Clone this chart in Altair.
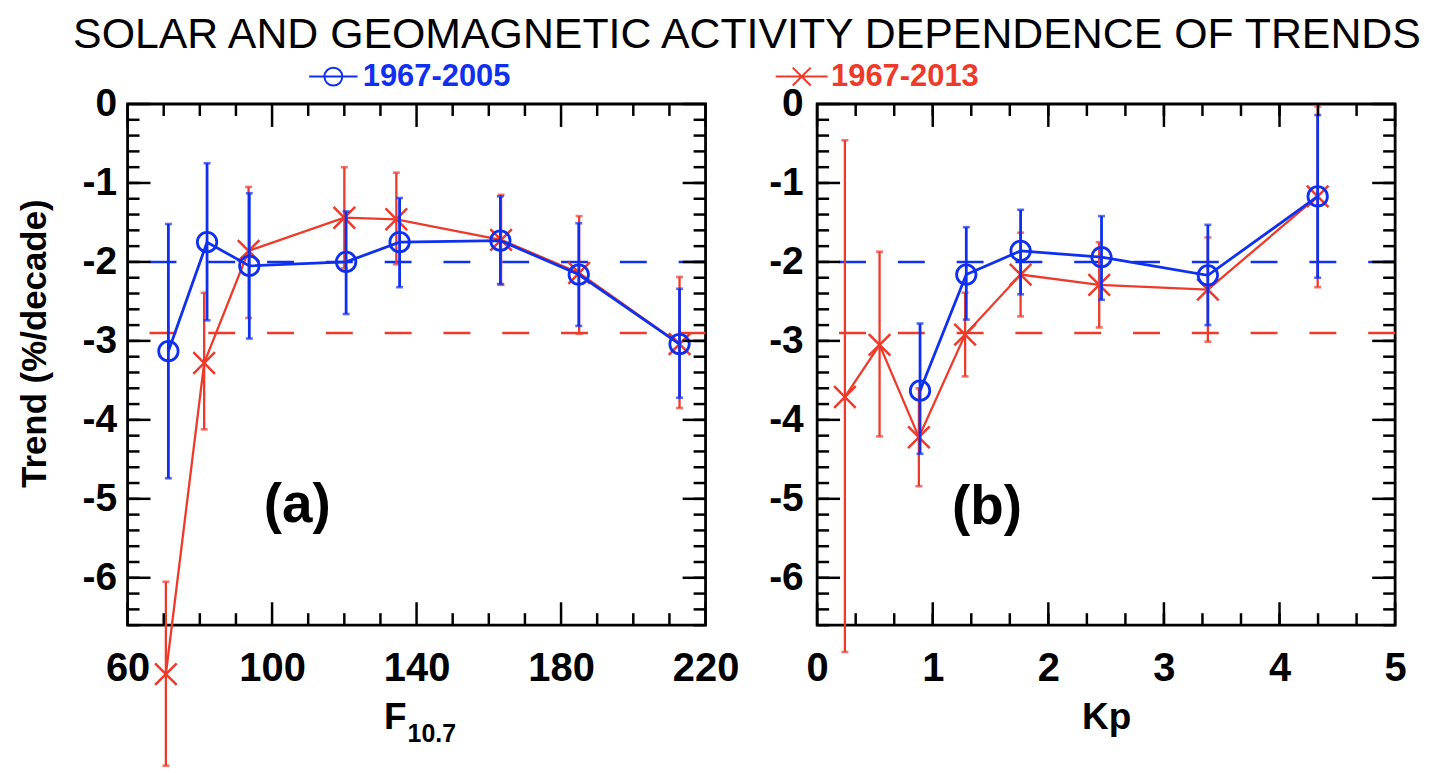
import altair as alt
import pandas as pd

# ---------------- data ----------------
series_names = ["1967-2005", "1967-2013"]
series_colors = ["#1030f0", "#ee3a2a"]
mean_trends = [-2.0, -2.9]

# panel (a): F10.7
f107_blue = [71.3, 82.0, 93.7, 120.5, 135.3, 163.2, 184.9, 212.8]
trend_blue_a = [-3.13, -1.75, -2.05, -2.00, -1.75, -1.73, -2.16, -3.04]
lo_blue_a = [-4.74, -2.74, -2.97, -2.66, -2.32, -2.28, -2.81, -3.72]
hi_blue_a = [-1.52, -0.75, -1.13, -1.36, -1.19, -1.17, -1.51, -2.34]

f107_red = [70.6, 81.2, 93.5, 120.0, 134.4, 163.4, 185.0, 212.8]
trend_red_a = [-7.22, -3.28, -1.86, -1.44, -1.46, -1.72, -2.14, -3.04]
lo_red_a = [-8.38, -4.12, -2.71, -2.08, -2.03, -2.29, -2.91, -3.85]
hi_red_a = [-6.05, -2.39, -1.05, -0.80, -0.87, -1.15, -1.42, -2.19]

# panel (b): Kp
kp_blue = [0.89, 1.29, 1.76, 2.46, 3.38, 4.33]
trend_blue_b = [-3.63, -2.16, -1.86, -1.94, -2.17, -1.17]
lo_blue_b = [-4.43, -2.73, -2.41, -2.48, -2.80, -2.20]
hi_blue_b = [-2.78, -1.56, -1.34, -1.42, -1.53, -0.14]

kp_red = [0.24, 0.54, 0.88, 1.28, 1.76, 2.44, 3.38, 4.33]
trend_red_b = [-3.71, -3.05, -4.22, -2.92, -2.16, -2.29, -2.35, -1.17]
lo_red_b = [-6.94, -4.21, -4.84, -3.45, -2.69, -2.83, -3.01, -2.32]
hi_red_b = [-0.46, -1.87, -3.60, -2.39, -1.63, -1.75, -1.69, -0.03]

# axes / ticks
y_domain = [-6.6, 0.0]
y_major = [0, -1, -2, -3, -4, -5, -6]
y_minor = [round(-0.2 * k, 2) for k in range(1, 34)]
f107_domain = [60, 220]
f107_major = [60, 100, 140, 180, 220]
f107_minor = [70, 80, 90, 110, 120, 130, 150, 160, 170, 190, 200, 210]
kp_domain = [0, 5]
kp_major = [0, 1, 2, 3, 4, 5]
kp_minor = [k / 3 for k in range(1, 15)]

panel_tags = ["(a)", "(b)"]
tag_x = [107, 1.47]
tag_y = [-5.08, -5.11]

title_text = "SOLAR AND GEOMAGNETIC ACTIVITY DEPENDENCE OF TRENDS"
ytitle = "Trend (%/decade)"
xtitle_a = "F"
xtitle_a_sub = "10.7"
xtitle_b = "Kp"

# ---------------- style ----------------
FONT = "Liberation Sans"
W, H = 580, 523
X_PATH = "M-1,-1L1,1M-1,1L1,-1"
LEG_PATHS = ["M-2.7,0L2.7,0M-1,0A1,1 0 1,0 1,0A1,1 0 1,0 -1,0",
             "M-2.9,0L2.9,0M-1,-1L1,1M-1,1L1,-1"]

cscale = alt.Scale(domain=series_names, range=series_colors)


def series_df(xs, ys, los, his, name):
    return pd.DataFrame({"x": xs, "trend": ys, "lo": los, "hi": his, "series": name})


def panel(blue, red, xdomain, xmajor, xminor, xaxis, yaxis, tag, tx, ty, leg_idx, leg_xy, extra=None):
    xs = alt.Scale(domain=xdomain, nice=False, zero=False)
    ys = alt.Scale(domain=y_domain, nice=False, zero=False)

    def XQ(f):
        return alt.X(f, type="quantitative", scale=xs, axis=xaxis)

    def YQ(f):
        return alt.Y(f, type="quantitative", scale=ys, axis=yaxis)

    col = alt.Color("series:N", scale=cscale, legend=None)
    layers = []

    means = pd.DataFrame({"series": series_names, "mean": mean_trends})
    layers.append(
        alt.Chart(means).mark_rule(strokeDash=[27, 32], strokeWidth=2.5).encode(y=YQ("mean"), color=col)
    )

    for df, sw, ew, is_blue in [(red, 2.3, 2.3, False), (blue, 2.8, 2.8, True)]:
        base = alt.Chart(df)
        layers.append(base.mark_rule(strokeWidth=ew).encode(
            x=XQ("x"), y=YQ("lo"), y2="hi:Q", color=col))
        for f in ["lo", "hi"]:
            layers.append(base.mark_tick(orient="horizontal", size=7, thickness=2.6).encode(
                x=XQ("x"), y=YQ(f), color=col))
        layers.append(base.mark_line(strokeWidth=sw).encode(x=XQ("x"), y=YQ("trend"), color=col))
        if is_blue:
            pts = base.mark_point(shape="circle", size=380, filled=False, strokeWidth=2.8, opacity=1)
        else:
            pts = base.mark_point(shape=X_PATH, size=470, filled=False, strokeWidth=2.5, opacity=1)
        layers.append(pts.encode(x=XQ("x"), y=YQ("trend"), color=col))

    # inward ticks on all four sides
    for vals, ln in [(xmajor, 23), (xminor, 12)]:
        d = alt.Chart(pd.DataFrame({"v": vals})).mark_rule(color="black", strokeWidth=2.5)
        layers.append(d.encode(x=XQ("v"), y=alt.value(H), y2=alt.value(H - ln)))
        layers.append(d.encode(x=XQ("v"), y=alt.value(0), y2=alt.value(ln)))
    for vals, ln in [(y_major, 23), (y_minor, 12)]:
        d = alt.Chart(pd.DataFrame({"v": vals})).mark_rule(color="black", strokeWidth=2.5)
        layers.append(d.encode(y=YQ("v"), x=alt.value(0), x2=alt.value(ln)))
        layers.append(d.encode(y=YQ("v"), x=alt.value(W - ln), x2=alt.value(W)))

    tagdf = pd.DataFrame({"t": [tag], "x": [tx], "y": [ty]})
    layers.append(alt.Chart(tagdf).mark_text(font=FONT, fontSize=55, fontWeight="bold",
                                             align="center", baseline="middle", color="black").encode(
        x=XQ("x"), y=YQ("y"), text="t:N"))

    if extra is not None:
        layers.extend(extra)

    # one-entry legend for this panel's series
    name = series_names[leg_idx]
    ldf = blue if leg_idx == 0 else red
    leg = alt.Legend(orient="none", legendX=leg_xy[0], legendY=leg_xy[1], title=None,
                     labelFont=FONT, labelFontSize=31, labelFontWeight="bold",
                     labelColor=series_colors[leg_idx],
                     symbolSize=324, symbolStrokeWidth=2.0, symbolOpacity=1, labelOffset=14,
                     padding=0)
    layers.append(alt.Chart(ldf).mark_point(opacity=0, filled=False).encode(
        x=XQ("x"), y=YQ("trend"),
        stroke=alt.Stroke("series:N", scale=alt.Scale(domain=[name], range=[series_colors[leg_idx]]), legend=leg),
        shape=alt.Shape("series:N", scale=alt.Scale(domain=[name], range=[LEG_PATHS[leg_idx]]), legend=leg)))

    return alt.layer(*layers).properties(width=W, height=H)


common_label = dict(labelFont=FONT, labelFontWeight="bold", labelColor="black", ticks=False,
                    domain=False, grid=False)

yaxis_a = alt.Axis(values=y_major, labelExpr="datum.value + ''", labelFontSize=39, labelPadding=11,
                   title=ytitle, titleFont=FONT, titleFontSize=35, titleFontWeight="bold", titleColor="black",
                   titleX=-93, titleY=240, titleAlign="center", titleBaseline="middle", titleAngle=270,
                   **common_label)
yaxis_b = alt.Axis(values=y_major, labelExpr="datum.value + ''", labelFontSize=39, labelPadding=14,
                   title=None, **common_label)
xaxis_a = alt.Axis(values=f107_major, labelFontSize=40, labelPadding=24, labelFlush=False,
                   title=xtitle_a, titleFont=FONT, titleFontSize=37, titleFontWeight="bold", titleColor="black",
                   titleX=268, titleY=104, titleAlign="center", titleBaseline="alphabetic", **common_label)
xaxis_b = alt.Axis(values=kp_major, labelFontSize=40, labelPadding=24, labelFlush=False,
                   title=xtitle_b, titleFont=FONT, titleFontSize=37, titleFontWeight="bold", titleColor="black",
                   titleY=104, titleBaseline="alphabetic", **common_label)

sub = alt.Chart(pd.DataFrame({"t": [xtitle_a_sub]})).mark_text(
    font=FONT, fontSize=25, fontWeight="bold", align="left", baseline="alphabetic", color="black"
).encode(text="t:N", x=alt.value(281), y=alt.value(H + 117))

left = panel(series_df(f107_blue, trend_blue_a, lo_blue_a, hi_blue_a, series_names[0]),
             series_df(f107_red, trend_red_a, lo_red_a, hi_red_a, series_names[1]),
             f107_domain, f107_major, f107_minor, xaxis_a, yaxis_a, panel_tags[0], tag_x[0], tag_y[0],
             0, (191, -43), extra=[sub])
right = panel(series_df(kp_blue, trend_blue_b, lo_blue_b, hi_blue_b, series_names[0]),
              series_df(kp_red, trend_red_b, lo_red_b, hi_red_b, series_names[1]),
              kp_domain, kp_major, kp_minor, xaxis_b, yaxis_b, panel_tags[1], tag_x[1], tag_y[1],
              1, (-31, -43))

chart = alt.hconcat(left, right, spacing=26).resolve_scale(
    stroke="independent", shape="independent"
).resolve_legend(stroke="independent", shape="independent").properties(
    title=alt.TitleParams(title_text, font=FONT, fontSize=43, fontWeight="normal", color="black",
                          anchor="middle", dx=35, offset=3),
    padding={"left": 8, "top": 4, "right": 4, "bottom": 0},
).configure_view(stroke="black", strokeWidth=2.8)

chart.save("out.html", embed_options={"renderer": "svg", "actions": False})
